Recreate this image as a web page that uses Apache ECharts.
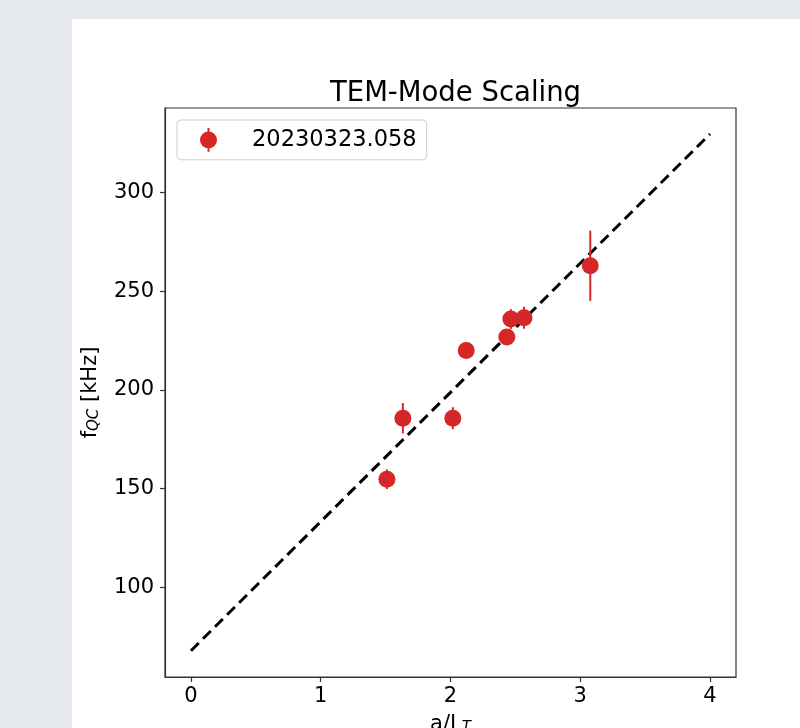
<!DOCTYPE html>
<html>
<head>
<meta charset="utf-8">
<script src="https://cdn.jsdelivr.net/npm/echarts@6/dist/echarts.min.js"></script>
<style>
html,body{margin:0;padding:0;background:#e5e8ec;width:800px;height:728px;overflow:hidden;}
#panel{position:absolute;left:72px;top:19px;width:728px;height:709px;background:#ffffff;}
#chart{position:absolute;left:0;top:0;width:800px;height:728px;}
</style>
</head>
<body>
<div id="panel"></div>
<div id="chart"></div>
<script>
// Data
const seriesName = '20230323.058';
const xValues = [1.510, 1.633, 2.018, 2.121, 2.434, 2.465, 2.567, 3.077];
const yValues = [154.7, 185.6, 185.6, 219.9, 226.8, 235.9, 236.6, 262.9];
const yErrors = [5.0, 7.7, 5.6, 1.5, 1.5, 5.0, 5.6, 17.8];
const fitX = [0, 4];
const fitY = [67.7, 329.7];
const xTicks = [0, 1, 2, 3, 4];
const yTicks = [100, 150, 200, 250, 300];

const FONT = 'DejaVu Sans';
const RED = '#d62728';

const points = xValues.map((x, i) => [x, yValues[i]]);
const errData = xValues.map((x, i) => [x, yValues[i], yErrors[i]]);
const fitData = fitX.map((x, i) => [x, fitY[i]]);

const chart = echarts.init(document.getElementById('chart'), null, {renderer: 'canvas'});
const legendIcon = 'path://M-0.12,-1.4L0.12,-1.4L0.12,-0.9L-0.12,-0.9Z M-0.12,0.9L0.12,0.9L0.12,1.4L-0.12,1.4Z M1,0A1,1,0,1,1,-1,0A1,1,0,1,1,1,0Z';

chart.setOption({
  backgroundColor: 'transparent',
  animation: false,
  title: {
    text: 'TEM-Mode Scaling',
    left: 450.5,
    top: 75,
    textAlign: 'center',
    textStyle: {fontFamily: FONT, fontSize: 27.5, fontWeight: 'normal', color: '#000'}
  },
  legend: {
    left: 177,
    top: 120,
    data: [{name: seriesName, icon: legendIcon}],
    itemWidth: 17,
    itemHeight: 24,
    padding: [8, 10, 8, 23],
    backgroundColor: '#fff',
    borderColor: '#cccccc',
    borderWidth: 1,
    borderRadius: 4,
    selectedMode: false,
    textStyle: {fontFamily: FONT, fontSize: 22.5, color: '#000', padding: [0, 0, 0, 30]}
  },
  grid: {
    left: 165, right: 64, top: 108, bottom: 51,
    outerBoundsMode: 'none',
    containLabel: false,
    show: true, borderColor: '#333', borderWidth: 1.2, backgroundColor: 'transparent'
  },
  xAxis: {
    type: 'value',
    min: -0.2, max: 4.2,
    name: 'a/L{sub|T}',
    nameLocation: 'middle',
    nameGap: 36,
    nameTextStyle: {
      fontFamily: FONT, fontSize: 21, color: '#000', verticalAlign: 'top',
      rich: {sub: {fontFamily: FONT, fontSize: 15, fontStyle: 'italic', color: '#000', verticalAlign: 'bottom', padding: [8, 0, 0, 0]}}
    },
    splitLine: {show: false},
    axisLine: {show: true, onZero: false, lineStyle: {color: '#333', width: 1.2}},
    axisTick: {show: true, length: 5, lineStyle: {color: '#333', width: 1.2}, customValues: xTicks},
    axisLabel: {fontFamily: FONT, fontSize: 21, color: '#000', margin: 9, customValues: xTicks}
  },
  yAxis: {
    type: 'value',
    min: 54.4, max: 342.9,
    name: 'f{sub|QC} [kHz]',
    nameLocation: 'middle',
    nameGap: 63,
    nameRotate: 90,
    nameTextStyle: {
      fontFamily: FONT, fontSize: 21, color: '#000',
      rich: {sub: {fontFamily: FONT, fontSize: 15, fontStyle: 'italic', color: '#000', verticalAlign: 'bottom', padding: [8, 0, 0, 0]}}
    },
    splitLine: {show: false},
    axisLine: {show: true, onZero: false, lineStyle: {color: '#333', width: 1.2}},
    axisTick: {show: true, length: 5, lineStyle: {color: '#333', width: 1.2}, customValues: yTicks},
    axisLabel: {fontFamily: FONT, fontSize: 21, color: '#000', margin: 11, customValues: yTicks}
  },
  series: [
    {
      name: 'fit',
      type: 'line',
      data: fitData,
      symbol: 'none',
      z: 1,
      lineStyle: {color: '#000', width: 3, type: [11, 6]},
      silent: true
    },
    {
      name: 'err',
      type: 'custom',
      data: errData,
      encode: {x: 0, y: 1},
      z: 2,
      renderItem: function (params, api) {
        const x = api.value(0), y = api.value(1), e = api.value(2);
        const p1 = api.coord([x, y - e]);
        const p2 = api.coord([x, y + e]);
        return {
          type: 'line',
          shape: {x1: p1[0], y1: p1[1], x2: p2[0], y2: p2[1]},
          style: {stroke: RED, lineWidth: 2}
        };
      }
    },
    {
      name: seriesName,
      type: 'scatter',
      data: points,
      symbol: 'circle',
      symbolSize: 17,
      z: 3,
      itemStyle: {color: RED, opacity: 1}
    }
  ]
});
</script>
</body>
</html>
